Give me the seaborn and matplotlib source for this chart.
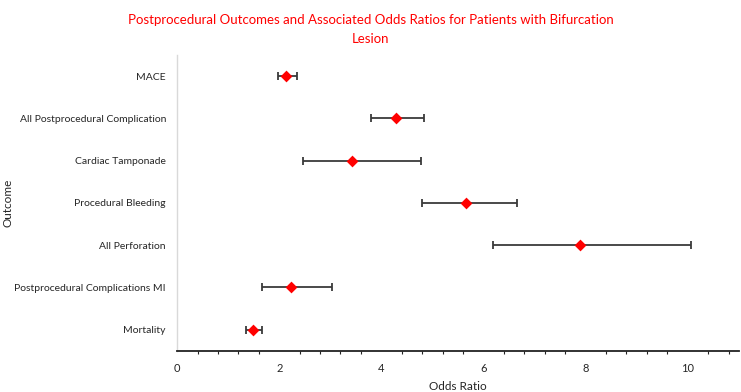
import numpy as np
import pandas as pd
import matplotlib
matplotlib.use("Agg")
import matplotlib.pyplot as plt
import seaborn as sns

# Data (odds ratio with 95% CI)
outcomes = ["MACE", "All Postprocedural Complication", "Cardiac Tamponade",
            "Procedural Bleeding", "All Perforation",
            "Postprocedural Complications MI", "Mortality"]
odds_ratio = [2.13, 4.28, 3.43, 5.66, 7.89, 2.24, 1.49]
ci_low = [1.97, 3.80, 2.47, 4.80, 6.18, 1.67, 1.34]
ci_high = [2.34, 4.84, 4.77, 6.65, 10.07, 3.04, 1.67]

df = pd.DataFrame({"Outcome": outcomes, "OR": odds_ratio,
                   "Low": ci_low, "High": ci_high})

sns.set_style("white")
plt.rcParams["font.family"] = ["Lato", "DejaVu Sans"]

fig = plt.figure(figsize=(7.41, 3.92), dpi=100)
ax = fig.add_axes([0.239, 0.105, 0.758, 0.755])

# confidence intervals
pos = np.arange(len(df))
ax.errorbar(df["OR"], pos,
            xerr=[df["OR"] - df["Low"], df["High"] - df["OR"]],
            fmt="none", ecolor="#3a3a3a", elinewidth=1.3,
            capsize=3, capthick=1.3, zorder=2)

# point estimates
sns.stripplot(data=df, x="OR", y="Outcome", order=outcomes, jitter=False,
              marker="D", size=6, color="#ff0000", linewidth=0, ax=ax, zorder=3)

ax.set_xlim(0, 11)
ax.set_ylim(len(df) - 0.5, -0.5)
ax.set_xticks([0, 2, 4, 6, 8, 10])
ax.set_xticks(np.arange(0.4, 11, 0.4), minor=True)
ax.tick_params(axis="x", which="major", direction="out", length=3.5, width=1,
               color="#222222", labelsize=8, pad=5)
ax.tick_params(axis="x", which="minor", direction="out", length=2.5, width=0.8,
               color="#222222", bottom=True)
ax.tick_params(axis="y", length=0, labelsize=7.5, pad=8)

for s in ["top", "right"]:
    ax.spines[s].set_visible(False)
ax.spines["left"].set_color("#d9d9d9")
ax.spines["left"].set_linewidth(1)
ax.spines["bottom"].set_color("#222222")
ax.spines["bottom"].set_linewidth(1.3)

ax.set_xlabel("Odds Ratio", fontsize=8.5, labelpad=5)
ax.set_ylabel("Outcome", fontsize=8.5)
ax.yaxis.set_label_coords(-0.292, 0.5)

fig.suptitle("Postprocedural Outcomes and Associated Odds Ratios for Patients with Bifurcation\nLesion",
             color="#ff0000", fontsize=9.5, x=0.5, y=0.965, linespacing=1.75)

fig.savefig("out.png", dpi=100)
